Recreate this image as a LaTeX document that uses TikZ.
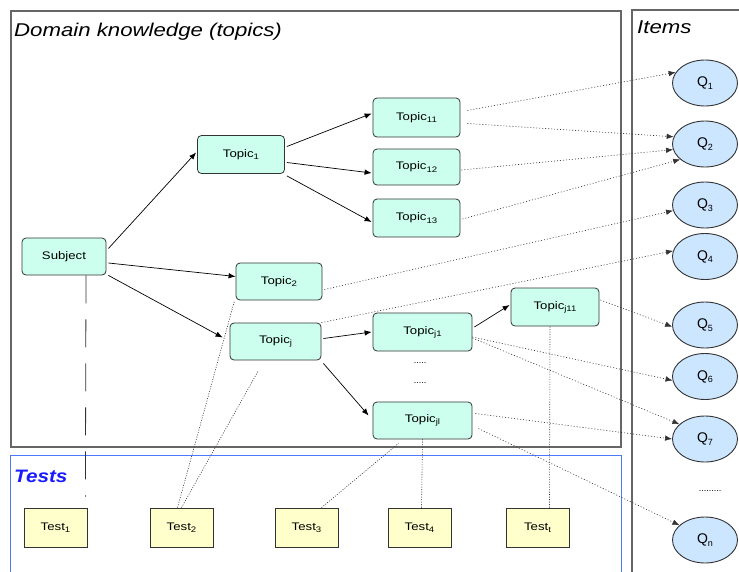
\documentclass[tikz,border=0pt]{standalone}
\usepackage{fontspec}
\setmainfont{Liberation Sans}
\usepackage{graphicx}
\usetikzlibrary{arrows.meta,calc,shapes.geometric}

% horizontally stretched text and lowered indices
\newcommand{\sx}[1]{\scalebox{1.2}[1]{#1}}
\newcommand{\lowidx}[1]{\raisebox{-2.2pt}{\fontsize{8}{8}\selectfont #1}}
\newcommand{\qidx}[1]{\raisebox{-2.6pt}{\fontsize{9}{9}\selectfont #1}}

\definecolor{topicfill}{HTML}{CCFFEE}
\definecolor{itemfill}{HTML}{CCE6FF}
\definecolor{testfill}{HTML}{FFFFCC}
\definecolor{edgegray}{HTML}{333333}
\definecolor{framegray}{HTML}{666666}
\definecolor{testblue}{HTML}{4D79FF}
\definecolor{titleblue}{HTML}{1A1AFF}

\tikzset{
  topicbox/.style={draw=edgegray, line width=0.8pt, fill=topicfill, rounded corners=4pt,
    minimum width=87pt, minimum height=38pt, inner sep=0pt, font=\fontsize{11}{11}\selectfont},
  testbox/.style={draw=edgegray, line width=0.8pt, fill=testfill,
    minimum width=63pt, minimum height=39pt, inner sep=0pt, font=\fontsize{11}{11}\selectfont},
  itemnode/.style={ellipse, draw=edgegray, line width=0.9pt, fill=itemfill,
    minimum width=65pt, minimum height=46pt, inner sep=0pt, font=\fontsize{14}{14}\selectfont},
  link/.style={-{Latex[length=7pt,width=5.5pt]}, line width=0.7pt, black},
  refer/.style={-{Latex[length=7pt,width=5.5pt]}, line width=0.6pt, edgegray, dash pattern=on 1pt off 2pt},
  tie/.style={line width=0.6pt, edgegray, dash pattern=on 1pt off 1.5pt},
  longtie/.style={line width=0.8pt, edgegray, dash pattern=on 28pt off 16pt},
  title/.style={font=\fontsize{18.5}{18.5}\selectfont\itshape, anchor=base west, inner sep=0pt},
  dots/.style={font=\fontsize{9}{9}\selectfont, inner sep=0pt}
}

\begin{document}
\begin{tikzpicture}[x=1pt,y=-1pt]
\useasboundingbox (0,0) rectangle (739,571);
\clip (0,0) rectangle (739,571);
\fill[white] (0,0) rectangle (739,571);

% frames
\draw[framegray, line width=1.2pt] (11,11) rectangle (621,447);
\draw[framegray, line width=1.2pt] (632,10) rectangle (760,600);
\draw[testblue, line width=1pt] (10,455) rectangle (621,600);

% frame titles
\node[title] (domaintitle) at (14,36) {\sx{Domain knowledge (topics)}};
\node[title] (itemstitle) at (637,33) {\sx{Items}};
\node[title, font=\fontsize{18}{18}\selectfont\bfseries\itshape, text=titleblue] (teststitle) at (14,482) {\scalebox{1.15}[1]{Tests}};

% topics
\node[topicbox, minimum width=84pt, minimum height=37pt] (subj) at (64,256.5) {\sx{Subject}};
\node[topicbox] (t1) at (241,154.5) {\sx{Topic\lowidx{1}}};
\node[topicbox, minimum width=86pt, minimum height=37pt] (t2) at (279,281.5) {\sx{Topic\lowidx{2}}};
\node[topicbox, minimum width=91pt, minimum height=37pt] (tj) at (275.5,341.5) {\sx{Topic\lowidx{j}}};
\node[topicbox, minimum height=39pt] (t11) at (416.5,117.5) {\sx{Topic\lowidx{11}}};
\node[topicbox, minimum height=36pt] (t12) at (416.5,167) {\sx{Topic\lowidx{12}}};
\node[topicbox] (t13) at (416.5,218) {\sx{Topic\lowidx{13}}};
\node[topicbox, minimum width=99pt] (tj1) at (422.5,332) {\sx{Topic\lowidx{j1}}};
\node[topicbox, minimum width=88pt] (tj11) at (555,307) {\sx{Topic\lowidx{j11}}};
\node[topicbox, minimum width=99pt, minimum height=37pt] (tjl) at (422.5,420.5) {\sx{Topic\lowidx{jl}}};
\node[dots] (gap1) at (420,363) {.....};
\node[dots] (gap2) at (420,383) {.....};

% tests
\node[testbox] (test1) at (55.5,527.5) {\sx{Test\lowidx{1}}};
\node[testbox] (test2) at (181.5,527.5) {\sx{Test\lowidx{2}}};
\node[testbox] (test3) at (306.5,527.5) {\sx{Test\lowidx{3}}};
\node[testbox] (test4) at (419.5,527.5) {\sx{Test\lowidx{4}}};
\node[testbox] (testt) at (537.5,527.5) {\sx{Test\lowidx{t}}};

% items
\node[itemnode] (q1) at (705,83) {Q\qidx{1}};
\node[itemnode] (q2) at (705,144) {Q\qidx{2}};
\node[itemnode] (q3) at (705,205) {Q\qidx{3}};
\node[itemnode] (q4) at (705,256.5) {Q\qidx{4}};
\node[itemnode] (q5) at (705,325) {Q\qidx{5}};
\node[itemnode] (q6) at (705,376.5) {Q\qidx{6}};
\node[itemnode] (q7) at (705,439) {Q\qidx{7}};
\node[itemnode] (qn) at (705,540) {Q\qidx{n}};
\node[dots] (qgap) at (710,491) {.........};

% topic hierarchy
\draw[link] ($(subj.east)+(2,-8)$) -- ($(t1.west)+(-1,-2)$);
\draw[link] ($(subj.east)+(2,6.5)$) -- ($(t2.west)+(0,-5)$);
\draw[link] ($(subj.south east)+(2,0)$) -- ($(tj.west)+(-7,-4)$);
\draw[link] ($(t1.east)+(2,-8)$) -- ($(t11.west)+(-1,-4)$);
\draw[link] ($(t1.east)+(2,8)$) -- ($(t12.west)+(-1,6)$);
\draw[link] ($(t1.south east)+(2,2)$) -- ($(t13.west)+(-1,4)$);
\draw[link] ($(tj.east)+(2,-3)$) -- ($(tj1.west)+(-1,0)$);
\draw[link] ($(tj.south east)+(2,3)$) -- ($(tjl.west)+(-4,-5)$);
\draw[link] ($(tj1.east)+(2,-5)$) -- ($(tj11.west)+(-1,-2)$);

% topics to items
\draw[refer] ($(t11.east)+(7,-7)$) -- (q1.160);
\draw[refer] ($(t11.east)+(7,6)$) -- (q2.167);
\draw[refer] ($(t12.east)+(1,3)$) -- (q2.190);
\draw[refer] ($(t13.east)+(2,1)$) -- (q2.212);
\draw[refer] ($(t2.east)+(2,8)$) -- (q3.190);
\draw[refer] (tj.north east) -- (q4.170);
\draw[refer] ($(tj11.east)+(1,-7)$) -- (q5.183);
\draw[refer] ($(tj1.east)+(0,5)$) -- (q6.187);
\draw[refer] ($(tj1.east)+(0,6)$) -- (q7.150);
\draw[refer] ($(tjl.east)+(3,-7)$) -- (q7.180);
\draw[refer] ($(tjl.east)+(6,8)$) -- (qn.150);

% tests to topics
\draw[longtie] ($(subj.south)+(22,0)$) -- ($(test1.north east)+(-2,-11)$);
\draw[tie] ($(test2.north)+(-4,0)$) -- ($(t2.south west)+(-1,0)$);
\draw[tie] (test2.north) -- ($(tj.south)+(-17,10)$);
\draw[tie] ($(test3.north)+(15,0)$) -- ($(tjl.south)+(-24,4)$);
\draw[tie] ($(test4.north)+(2,0)$) -- (tjl.south);
\draw[tie] ($(testt.north)+(12,0)$) -- ($(tj11.south)+(-5,0)$);
\end{tikzpicture}
\end{document}
